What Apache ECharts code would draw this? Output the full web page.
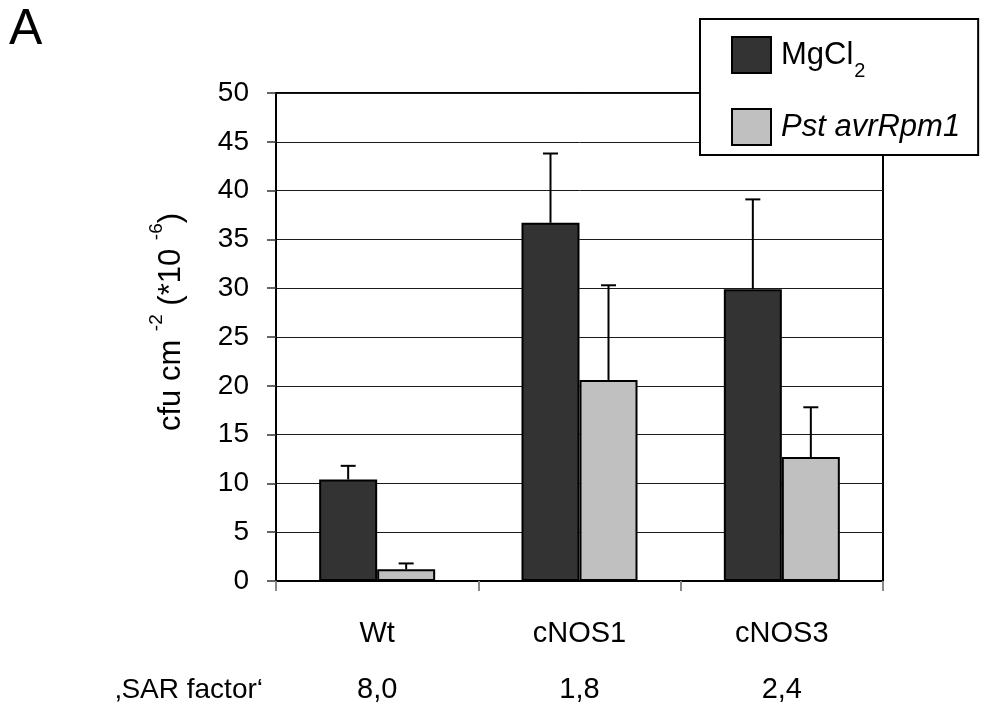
<!DOCTYPE html>
<html>
<head>
<meta charset="utf-8">
<script src="https://cdn.jsdelivr.net/npm/echarts@6/dist/echarts.min.js"></script>
<style>
  html, body { margin: 0; padding: 0; background: #fff; }
  #chart { width: 982px; height: 708px; }
</style>
</head>
<body>
<div id="chart"></div>
<script>
// Bacterial growth per genotype, two treatments, mean with upper SD bar
const categories = ['Wt', 'cNOS1', 'cNOS3'];
const sarFactor = ['8,0', '1,8', '2,4'];
const mgcl2Mean = [10.4, 36.7, 29.9];
const mgcl2Sd = [1.4, 7.1, 9.2];
const pstMean = [1.2, 20.6, 12.7];
const pstSd = [0.6, 9.7, 5.1];
const yTicks = { min: 0, max: 50, step: 5 };

const FONT = "'Liberation Sans', Arial, sans-serif";
const BAR_W = 58;

function errorSeries(name, mean, sd, offset) {
  return {
    type: 'custom',
    name: name + ' SD',
    z: 5,
    data: mean.map((m, i) => [i, m, sd[i]]),
    encode: { x: 0, y: 1 },
    renderItem: function (params, api) {
      const i = api.value(0);
      const m = api.value(1);
      const s = api.value(2);
      const base = api.coord([i, m]);
      const top = api.coord([i, m + s]);
      const x = base[0] + offset;
      return {
        type: 'group',
        children: [
          { type: 'line', shape: { x1: x, y1: base[1], x2: x, y2: top[1] },
            style: { stroke: '#000', lineWidth: 2 } },
          { type: 'line', shape: { x1: x - 7.5, y1: top[1], x2: x + 7.5, y2: top[1] },
            style: { stroke: '#000', lineWidth: 2 } }
        ]
      };
    }
  };
}

const chart = echarts.init(document.getElementById('chart'), null, { renderer: 'canvas' });

chart.setOption({
  backgroundColor: '#fff',
  animation: false,
  textStyle: { fontFamily: FONT, color: '#000' },
  grid: {
    left: 276, top: 93, right: 99, bottom: 127,
    show: true, borderColor: '#000', borderWidth: 2
  },
  legend: {
    data: ['MgCl2', 'Pst avrRpm1'],
    orient: 'vertical',
    left: 700, top: 19,
    padding: [17, 18, 9, 31],
    itemWidth: 39, itemHeight: 36, itemGap: 27,
    icon: 'rect',
    backgroundColor: '#fff',
    borderColor: '#000', borderWidth: 2,
    formatter: function (name) {
      return name === 'MgCl2' ? '{n|MgCl}{sub|2}' : '{it|Pst avrRpm1}';
    },
    textStyle: {
      fontFamily: FONT, fontSize: 31, color: '#000', padding: [0, 0, 0, 5],
      rich: {
        n: { fontFamily: FONT, fontSize: 31, color: '#000', lineHeight: 52, verticalAlign: 'middle' },
        sub: { fontFamily: FONT, fontSize: 20, color: '#000', lineHeight: 52, verticalAlign: 'bottom', padding: [0, 0, 0, 1] },
        it: { fontFamily: FONT, fontSize: 31, fontStyle: 'italic', color: '#000', lineHeight: 36 }
      }
    }
  },
  xAxis: {
    type: 'category',
    data: categories,
    axisLine: { lineStyle: { color: '#000', width: 2 } },
    axisTick: { show: true, length: 10, lineStyle: { color: '#888', width: 2 } },
    axisLabel: {
      margin: 25,
      formatter: function (value, index) {
        return '{cat|' + value + '}\n{sar|' + sarFactor[index] + '}';
      },
      rich: {
        cat: { fontFamily: FONT, fontSize: 29, color: '#000', lineHeight: 56 },
        sar: { fontFamily: FONT, fontSize: 29, color: '#000', lineHeight: 56 }
      }
    },
    splitLine: { show: false }
  },
  yAxis: {
    type: 'value',
    min: yTicks.min, max: yTicks.max, interval: yTicks.step,
    axisLine: { show: true, lineStyle: { color: '#000', width: 2 } },
    axisTick: { show: true, length: 9, lineStyle: { color: '#333', width: 1.5 } },
    axisLabel: { fontFamily: FONT, fontSize: 28, color: '#000', margin: 27 },
    splitLine: { show: true, lineStyle: { color: '#1a1a1a', width: 1 } }
  },
  graphic: [
    {
      type: 'text', left: 9, top: 5,
      style: { text: 'A', fontFamily: FONT, fontSize: 50, fill: '#000' }
    },
    {
      type: 'text', x: 263, y: 690,
      style: { text: '\u201ASAR factor\u2018', fontFamily: FONT, fontSize: 28, fill: '#000',
               align: 'right', verticalAlign: 'middle' }
    },
    {
      type: 'text', x: 167, y: 322, rotation: Math.PI / 2,
      style: {
        text: '{t|cfu cm }{s|-2}{t| (*10 }{s|-6}{t|)}',
        align: 'center', verticalAlign: 'middle',
        rich: {
          t: { fontFamily: FONT, fontSize: 31, fill: '#000', lineHeight: 40, verticalAlign: 'bottom' },
          s: { fontFamily: FONT, fontSize: 19, fill: '#000', lineHeight: 40, verticalAlign: 'top' }
        }
      }
    }
  ],
  series: [
    {
      name: 'MgCl2', type: 'bar', data: mgcl2Mean,
      barWidth: BAR_W, barGap: '0%',
      itemStyle: { color: '#333333', borderColor: '#000', borderWidth: 2 }
    },
    {
      name: 'Pst avrRpm1', type: 'bar', data: pstMean,
      barWidth: BAR_W, barGap: '0%',
      itemStyle: { color: '#c0c0c0', borderColor: '#000', borderWidth: 2 }
    },
    errorSeries('MgCl2', mgcl2Mean, mgcl2Sd, -BAR_W / 2),
    errorSeries('Pst avrRpm1', pstMean, pstSd, BAR_W / 2)
  ]
});
</script>
</body>
</html>
